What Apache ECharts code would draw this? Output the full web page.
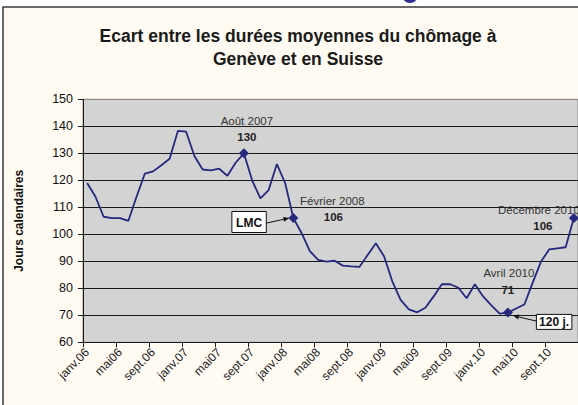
<!DOCTYPE html>
<html>
<head>
<meta charset="utf-8">
<script src="https://cdn.jsdelivr.net/npm/echarts@6/dist/echarts.min.js"></script>
<style>
  html, body { margin: 0; padding: 0; background: #fff; }
  #chart { width: 578px; height: 405px; }
</style>
</head>
<body>
<div id="chart"></div>
<script>
// monthly categories janv.06 .. déc.10
var moisNoms = ['janv.', 'févr.', 'mars', 'avr.', 'mai', 'juin', 'juil.', 'août', 'sept.', 'oct.', 'nov.', 'déc.'];
var annees = ['06', '07', '08', '09', '10'];
var categories = [];
annees.forEach(function (a) {
  moisNoms.forEach(function (m) { categories.push(m + a); });
});

// écart des durées moyennes (jours calendaires)
var ecart = [
  119, 114, 106.5, 106, 106, 105, 114, 122.5, 123.3, 125.6, 128, 138.3,
  138, 129, 124, 123.7, 124.3, 121.7, 126.5, 130, 120, 113.3, 116.4, 126,
  119, 106, 100.4, 93.8, 90.5, 89.9, 90.2, 88.4, 88.1, 87.9, 92.3, 96.7,
  91.8, 82.5, 75.7, 72.2, 71.1, 72.8, 77, 81.5, 81.5, 80.2, 76.3, 81.5,
  77, 73.7, 70.6, 71, 72.5, 74, 82, 89.8, 94.4, 94.8, 95.2, 106
];

var yMin = 60, yMax = 150, yStep = 10;

// highlighted months : index, label, value text
var reperes = [
  { idx: 19, texte: 'Août 2007', valeur: '130' },
  { idx: 25, texte: 'Février 2008', valeur: '106' },
  { idx: 51, texte: 'Avril 2010', valeur: '71' },
  { idx: 59, texte: 'Décembre 2010', valeur: '106' }
];
var marques = reperes.map(function (r) { return r.idx; });

// boxed notes pointing at a month
var notes = [
  { idx: 25, texte: 'LMC' },
  { idx: 51, texte: '120 j.' }
];

var FONT = '"Liberation Sans", Arial, sans-serif';
var LIGNE = '#25287d';

var chart = echarts.init(document.getElementById('chart'), null, { renderer: 'svg' });

var gridColors = [];
for (var v = yMin; v <= yMax; v += yStep) gridColors.push(v === yMax ? '#8c8c8c' : '#1a1a1a');

chart.setOption({
  backgroundColor: '#ffffff',
  animation: false,
  grid: {
    left: 83, top: 99.3, width: 496, height: 243,
    show: true, backgroundColor: '#d3d3d3', borderColor: '#8c8c8c', borderWidth: 1
  },
  xAxis: {
    type: 'category',
    data: categories,
    boundaryGap: true,
    axisLine: { lineStyle: { color: '#1a1a1a', width: 1 } },
    axisTick: { show: true, interval: 3, length: 5, lineStyle: { color: '#1a1a1a' } },
    axisLabel: {
      interval: 3, rotate: 45, margin: 8,
      fontFamily: FONT, fontSize: 12, color: '#222'
    },
    splitLine: { show: false }
  },
  yAxis: {
    type: 'value',
    min: yMin, max: yMax, interval: yStep,
    name: 'Jours calendaires',
    nameLocation: 'middle',
    nameGap: 58,
    nameRotate: 90,
    nameTextStyle: { fontFamily: FONT, fontSize: 12, fontWeight: 'bold', color: '#111' },
    axisLine: { show: true, lineStyle: { color: '#1a1a1a', width: 1 } },
    axisTick: { show: true, length: 5, lineStyle: { color: '#1a1a1a' } },
    axisLabel: { fontFamily: FONT, fontSize: 12.5, color: '#111', margin: 10 },
    splitLine: { show: true, lineStyle: { color: gridColors, width: 1 } }
  },
  series: [{
    type: 'line',
    data: ecart,
    showAllSymbol: true,
    symbol: 'diamond',
    symbolSize: function (val, p) { return marques.indexOf(p.dataIndex) >= 0 ? 10 : 0; },
    itemStyle: { color: LIGNE },
    lineStyle: { color: LIGNE, width: 1.8 },
    z: 5
  }]
});

// annotations placed from the series' own pixel positions
function px(i) { return chart.convertToPixel({ seriesIndex: 0 }, [i, ecart[i]]); }

var decal = {
  19: { t: [3, -32], v: [3, -16] },
  25: { t: [39, -17], v: [40, -1] },
  51: { t: [1, -40], v: [0, -23] },
  59: { t: [-35, -8], v: [-31, 8] }
};
var boites = {
  25: { x: -61.5, y: -6.6, w: 34.4, h: 21, fleche: [-27, 5, -4, 0] },
  51: { x: 28.5, y: 1.8, w: 35.5, h: 15, fleche: [28.5, 8.5, 5, 3] }
};

var elems = [
  { type: 'rect', z: -10, shape: { x: 3, y: 7, width: 640, height: 460 },
    style: { fill: '#fffaf2', stroke: '#3a3a3a', lineWidth: 1.5 } },
  { type: 'circle', z: -9, shape: { cx: 410, cy: -5, r: 8 }, style: { fill: '#2e3192' } },
  { type: 'text', z: 10, style: { x: 298, y: 36, text: 'Ecart entre les durées moyennes du chômage à',
    textAlign: 'center', textVerticalAlign: 'middle', font: 'bold 17.5px ' + FONT, fill: '#1a1a1a' } },
  { type: 'text', z: 10, style: { x: 298, y: 59, text: 'Genève et en Suisse',
    textAlign: 'center', textVerticalAlign: 'middle', font: 'bold 17.5px ' + FONT, fill: '#1a1a1a' } }
];

reperes.forEach(function (r) {
  var p = px(r.idx), d = decal[r.idx];
  elems.push({ type: 'text', z: 10, style: { x: p[0] + d.t[0], y: p[1] + d.t[1], text: r.texte,
    textAlign: 'center', textVerticalAlign: 'middle', font: '11.5px ' + FONT, fill: '#333' } });
  elems.push({ type: 'text', z: 10, style: { x: p[0] + d.v[0], y: p[1] + d.v[1], text: r.valeur,
    textAlign: 'center', textVerticalAlign: 'middle', font: 'bold 11.5px ' + FONT, fill: '#222' } });
});

notes.forEach(function (n) {
  var p = px(n.idx), b = boites[n.idx];
  var bx = p[0] + b.x, by = p[1] + b.y;
  elems.push({ type: 'rect', z: 11, shape: { x: bx, y: by, width: b.w, height: b.h },
    style: { fill: '#ffffff', stroke: '#111', lineWidth: 1 } });
  elems.push({ type: 'text', z: 12, style: { x: bx + b.w / 2, y: by + b.h / 2 + 0.5, text: n.texte,
    textAlign: 'center', textVerticalAlign: 'middle', font: 'bold 12px ' + FONT, fill: '#111' } });
  // arrow line + head
  var x1 = p[0] + b.fleche[0], y1 = p[1] + b.fleche[1];
  var x2 = p[0] + b.fleche[2], y2 = p[1] + b.fleche[3];
  var ang = Math.atan2(y2 - y1, x2 - x1), L = 6, W = 2.5;
  var bxh = x2 - L * Math.cos(ang), byh = y2 - L * Math.sin(ang);
  elems.push({ type: 'line', z: 11, shape: { x1: x1, y1: y1, x2: bxh, y2: byh },
    style: { stroke: '#111', lineWidth: 1 } });
  elems.push({ type: 'polygon', z: 11, shape: { points: [
    [x2, y2],
    [bxh - W * Math.sin(ang), byh + W * Math.cos(ang)],
    [bxh + W * Math.sin(ang), byh - W * Math.cos(ang)]
  ] }, style: { fill: '#111' } });
});

chart.setOption({ graphic: { elements: elems } });
</script>
</body>
</html>
